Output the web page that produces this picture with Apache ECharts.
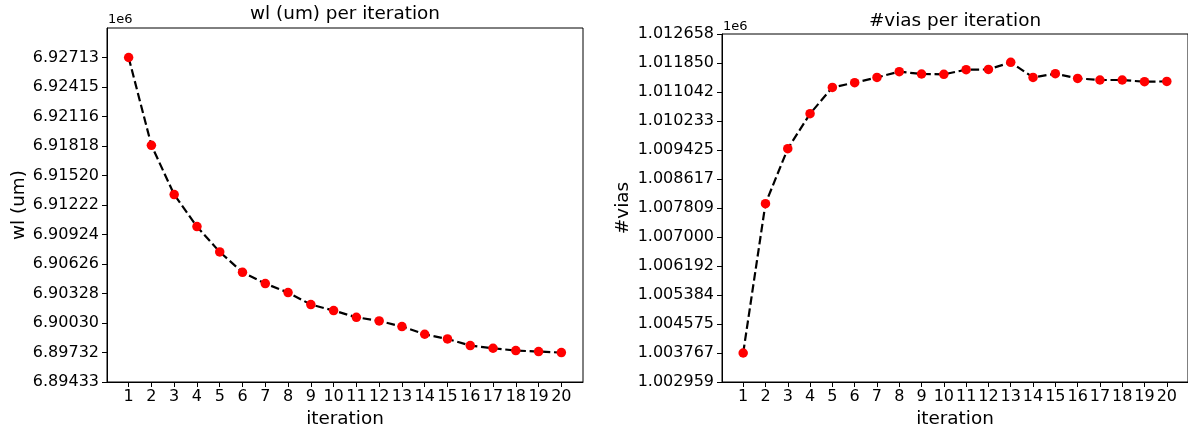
<!DOCTYPE html>
<html>
<head>
<meta charset="utf-8">
<script src="https://cdn.jsdelivr.net/npm/echarts@6/dist/echarts.min.js"></script>
<style>html,body{margin:0;padding:0;background:#fff}#c{width:1188px;height:433px}</style>
</head>
<body>
<div id="c"></div>
<script>
// ---- data ----
const iterations = [1,2,3,4,5,6,7,8,9,10,11,12,13,14,15,16,17,18,19,20];
const wlValues = [6927130, 6918254, 6913273, 6910039, 6907472, 6905420, 6904278, 6903369, 6902156, 6901550,
                  6900873, 6900499, 6899933, 6899155, 6898680, 6898013, 6897740, 6897507, 6897406, 6897305];
const viasValues = [1003767, 1007930, 1009461, 1010437, 1011170, 1011301, 1011448, 1011607, 1011543, 1011535,
                    1011663, 1011671, 1011868, 1011448, 1011551, 1011420, 1011376, 1011376, 1011328, 1011337];
const wlTickLabels = ['6.89433','6.89732','6.90030','6.90328','6.90626','6.90924','6.91222','6.91520','6.91818','6.92116','6.92415','6.92713'];
const viasTickLabels = ['1.002959','1.003767','1.004575','1.005384','1.006192','1.007000','1.007809','1.008617','1.009425','1.010233','1.011042','1.011850','1.012658'];
const xTickLabels = iterations.map(String);

// ---- chart ----
const FONT = 'DejaVu Sans';
const wlTicks = wlTickLabels.map(s => Math.round(parseFloat(s) * 1e6));
const viasTicks = viasTickLabels.map(s => Math.round(parseFloat(s) * 1e6));
function labelFor(ticks, labels) {
  return function (v) {
    let best = -1, bd = Infinity;
    ticks.forEach((t, i) => { const d = Math.abs(t - v); if (d < bd) { bd = d; best = i; } });
    return bd < 50 ? labels[best] : '';
  };
}
const chart = echarts.init(document.getElementById('c'), null, {renderer: 'canvas'});
const axisCommon = {
  axisLine: {show: true, lineStyle: {color: '#000', width: 1}},
  axisTick: {show: true, length: 5, lineStyle: {color: '#000', width: 1}},
  splitLine: {show: false},
  axisLabel: {color: '#000', fontFamily: FONT, fontSize: 16}
};
function xAxis(gi) {
  return {
    type: 'value', gridIndex: gi, min: 0.05, max: 20.95,
    axisLine: axisCommon.axisLine, splitLine: {show: false},
    axisTick: Object.assign({}, axisCommon.axisTick, {customValues: iterations}),
    axisLabel: Object.assign({}, axisCommon.axisLabel, {margin: 7, customValues: iterations,
      formatter: v => xTickLabels[iterations.indexOf(Math.round(v))] || ''})
  };
}
function yAxis(gi, min, max, ticks, labels) {
  return {
    type: 'value', gridIndex: gi, min: min, max: max, scale: true,
    axisLine: axisCommon.axisLine, splitLine: {show: false},
    axisTick: Object.assign({}, axisCommon.axisTick, {customValues: ticks}),
    axisLabel: Object.assign({}, axisCommon.axisLabel, {margin: 8, customValues: ticks,
      formatter: labelFor(ticks, labels)})
  };
}
function series(xi, yi, vals) {
  return {
    type: 'line', xAxisIndex: xi, yAxisIndex: yi,
    data: iterations.map((x, i) => [x, vals[i]]),
    symbol: 'circle', symbolSize: 9.5,
    itemStyle: {color: '#ff0000', borderWidth: 0},
    lineStyle: {color: '#000', width: 2.2, type: [8.5, 3.7]},
    animation: false, silent: true
  };
}
function txt(text, x, y, size, rot) {
  return {type: 'text', x: x, y: y, rotation: rot || 0,
    style: {text: text, fill: '#000', font: size + 'px "' + FONT + '"', textAlign: 'center', textVerticalAlign: 'middle'}};
}
function txtL(text, x, y, size) {
  return {type: 'text', x: x, y: y,
    style: {text: text, fill: '#000', font: size + 'px "' + FONT + '"', textAlign: 'left', textVerticalAlign: 'middle'}};
}
chart.setOption({
  animation: false,
  backgroundColor: '#fff',
  grid: [
    {left: 107, top: 28, width: 476, height: 354, show: true, borderColor: '#000', borderWidth: 1, containLabel: false},
    {left: 722, top: 34, width: 467, height: 348, show: true, borderColor: '#000', borderWidth: 1, containLabel: false}
  ],
  xAxis: [xAxis(0), xAxis(1)],
  yAxis: [
    yAxis(0, wlTicks[0], wlTicks[wlTicks.length - 1] + (wlTicks[wlTicks.length - 1] - wlTicks[0]) / 11, wlTicks, wlTickLabels),
    yAxis(1, viasTicks[0], viasTicks[viasTicks.length - 1], viasTicks, viasTickLabels)
  ],
  series: [series(0, 0, wlValues), series(1, 1, viasValues)],
  graphic: [
    txt('wl (um) per iteration', 345, 14, 18.4),
    txt('#vias per iteration', 955, 21, 18.4),
    txtL('1e6', 108, 19.5, 13),
    txtL('1e6', 723, 26.5, 13),
    txt('iteration', 345, 419, 18.4),
    txt('iteration', 955, 419, 18.4),
    txt('wl (um)', 19, 205, 18.4, Math.PI / 2),
    txt('#vias', 623, 208, 18.4, Math.PI / 2)
  ]
});
</script>
</body>
</html>
